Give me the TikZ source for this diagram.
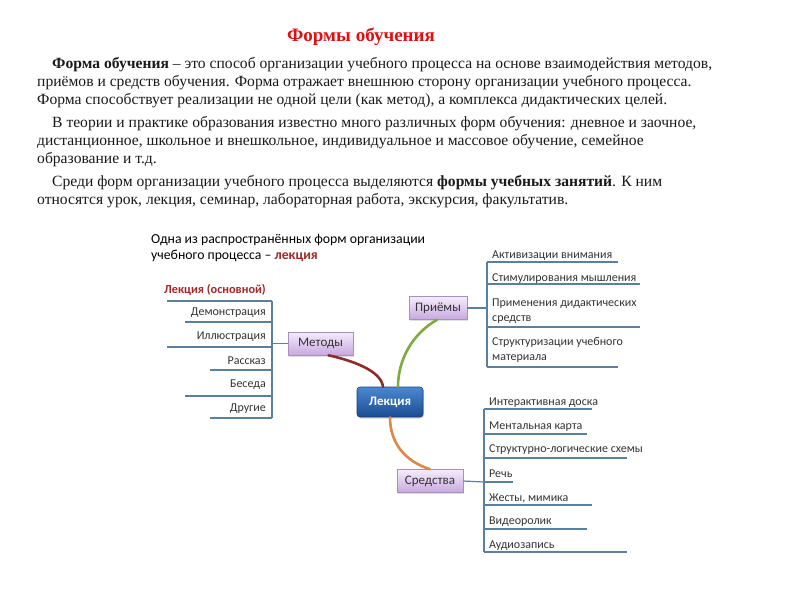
\documentclass[tikz,border=0pt]{standalone}
\usepackage{fontspec}
\setmainfont{Liberation Serif}
\newfontfamily\calfont{Carlito}
\usetikzlibrary{shadows}
\definecolor{titlered}{HTML}{E01010}
\definecolor{txt}{HTML}{1A1A1A}
\definecolor{dtxt}{HTML}{333333}
\definecolor{listline}{HTML}{5B7F9E}
\definecolor{lectred}{HTML}{A02828}
\definecolor{curvered}{HTML}{8E2B2B}
\definecolor{curvegreen}{HTML}{7EAA3E}
\definecolor{curveorange}{HTML}{D9894A}
\definecolor{boxtop}{HTML}{F5ECFB}
\definecolor{boxbot}{HTML}{C8A8E0}
\definecolor{boxborder}{HTML}{A890BE}
\definecolor{bluetop}{HTML}{4B88D2}
\definecolor{bluebot}{HTML}{1A4C92}
\definecolor{blueborder}{HTML}{173F78}
\tikzset{
  para/.style={anchor=west, inner sep=0pt, text=txt, font=\fontsize{15.6}{18}\selectfont},
  dtitle/.style={anchor=west, inner sep=0pt, text=black, font=\calfont\fontsize{13.75}{16}\selectfont},
  item/.style={inner sep=0pt, text=dtxt, font=\calfont\fontsize{12}{14.5}\selectfont},
  lline/.style={draw=listline, line width=1.2pt},
  pbox/.style={draw=boxborder, line width=0.6pt, top color=boxtop, bottom color=boxbot, text=dtxt,
     font=\calfont\fontsize{13}{15}\selectfont, inner sep=0pt, minimum height=23pt,
     drop shadow={shadow xshift=1pt, shadow yshift=-1.5pt, opacity=0.25}},
  bbox/.style={draw=blueborder, line width=0.6pt, rounded corners=3pt, top color=bluetop, bottom color=bluebot,
     text=white, font=\calfont\bfseries\fontsize{13}{15}\selectfont, inner sep=0pt, minimum width=66pt, minimum height=30pt,
     drop shadow={shadow xshift=1pt, shadow yshift=-1.5pt, opacity=0.3}},
  curve/.style={line width=2.6pt, line cap=round}
}
\begin{document}
\begin{tikzpicture}[x=1pt,y=-1pt]
\useasboundingbox (0,0) rectangle (800,600);
\fill[white] (0,0) rectangle (800,600);

% title
\node[text=titlered, font=\bfseries\fontsize{19}{21}\selectfont, inner sep=0pt] (title) at (361,37) {Формы обучения};

% paragraphs
\node[para] (p1) at (52,65) {\textbf{Форма обучения} – это способ организации учебного процесса на основе взаимодействия методов,};
\node[para] (p2) at (37,83) {приёмов и средств обучения. Форма отражает внешнюю сторону организации учебного процесса.};
\node[para] (p3) at (37,101) {Форма способствует реализации не одной цели (как метод), а комплекса дидактических целей.};
\node[para] (p4) at (52,124) {В теории и практике образования известно много различных форм обучения: дневное и заочное,};
\node[para] (p5) at (37,142) {дистанционное, школьное и внешкольное, индивидуальное и массовое обучение, семейное};
\node[para] (p6) at (37,160) {образование и т.д.};
\node[para] (p7) at (52,183) {Среди форм организации учебного процесса выделяются \textbf{формы учебных занятий}. К ним};
\node[para] (p8) at (37,201) {относятся урок, лекция, семинар, лабораторная работа, экскурсия, факультатив.};

% diagram title
\node[dtitle] (d1) at (151,240) {Одна из распространённых форм организации};
\node[dtitle] (d2) at (151,256) {учебного процесса – \textcolor{lectred}{\textbf{лекция}}};

% central boxes
\node[bbox] (lek) at (390,402) {Лекция};
\node[pbox, minimum width=65pt] (met) at (320.5,343.5) {Методы};
\node[pbox, minimum width=58pt] (pri) at (438,308) {Приёмы};
\node[pbox, minimum width=66pt] (sre) at (430,481) {Средства};

% curves
\draw[curve, curvered] ([xshift=8pt]met.south) .. controls (350,360) and (381,370) .. ([xshift=-7pt]lek.north);
\draw[curve, curvegreen] ([xshift=-1pt]pri.south) .. controls (412,334) and (398,360) .. ([xshift=8pt]lek.north);
\draw[curve, curveorange] ([xshift=0pt]lek.south) .. controls (390,442) and (404,461) .. (sre.north);

% left list (Методы)
\node[item, anchor=east, text=lectred, font=\calfont\bfseries\fontsize{12.3}{14}\selectfont] (l0) at (266,290) {Лекция (основной)};
\node[item, anchor=east] (l1) at (266,313) {Демонстрация};
\node[item, anchor=east] (l2) at (266,337) {Иллюстрация};
\node[item, anchor=east] (l3) at (266,361) {Рассказ};
\node[item, anchor=east] (l4) at (266,385) {Беседа};
\node[item, anchor=east] (l5) at (266,409) {Другие};
\coordinate (lv1) at (272,301);
\coordinate (lv2) at (272,418);
\coordinate (lj) at (272,343.5);
\draw[lline] (lv1) -- (lv2);
\draw[lline] (lj) -- (met.west);
\draw[lline] (167,301) -- (lv1);
\draw[lline] (185,322) -- (272,322);
\draw[lline] (167,347) -- (272,347);
\draw[lline] (210,370) -- (272,370);
\draw[lline] (185,396) -- (272,396);
\draw[lline] (210,418) -- (lv2);

% right top list (Приёмы)
\node[item, anchor=west] (r1) at (492,256) {Активизации внимания};
\node[item, anchor=west] (r2) at (492,279) {Стимулирования мышления};
\node[item, anchor=west, align=left] (r3) at (492,311) {Применения дидактических\\средств};
\node[item, anchor=west, align=left] (r4) at (492,350) {Структуризации учебного\\материала};
\coordinate (rv1) at (487,262);
\coordinate (rv2) at (487,367);
\coordinate (rj) at (487,308);
\draw[lline] (rv1) -- (rv2);
\draw[lline] (pri.east) -- (rj);
\draw[lline] (rv1) -- (618,262);
\draw[lline] (487,284) -- (640,284);
\draw[lline] (487,327) -- (640,327);
\draw[lline] (rv2) -- (618,367);

% right bottom list (Средства)
\node[item, anchor=west] (s1) at (489,403) {Интерактивная доска};
\node[item, anchor=west] (s2) at (489,427) {Ментальная карта};
\node[item, anchor=west] (s3) at (489,450) {Структурно-логические схемы};
\node[item, anchor=west] (s4) at (489,474) {Речь};
\node[item, anchor=west] (s5) at (489,498) {Жесты, мимика};
\node[item, anchor=west] (s6) at (489,522) {Видеоролик};
\node[item, anchor=west] (s7) at (489,546) {Аудиозапись};
\coordinate (sv1) at (484,409);
\coordinate (sv2) at (484,552);
\coordinate (sj) at (484,482);
\draw[lline] (sv1) -- (sv2);
\draw[lline] (sre.east) -- (sj);
\draw[lline] (sv1) -- (592,409);
\draw[lline] (484,434) -- (587,434);
\draw[lline] (484,458) -- (627,458);
\draw[lline] (sj) -- (513,482);
\draw[lline] (484,505) -- (592,505);
\draw[lline] (484,529) -- (587,529);
\draw[lline] (sv2) -- (627,552);
\end{tikzpicture}
\end{document}
